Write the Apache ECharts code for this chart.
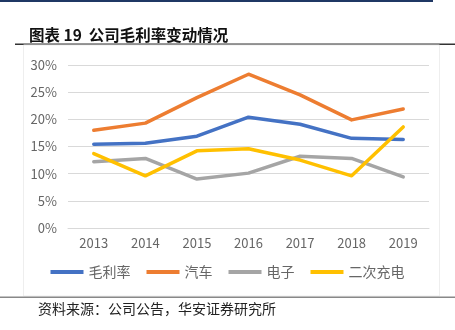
<!DOCTYPE html>
<html><head><meta charset="utf-8">
<script src="https://cdn.jsdelivr.net/npm/echarts@6/dist/echarts.min.js"></script>
<style>html,body{margin:0;padding:0;background:#fff}#c{width:455px;height:330px}</style>
</head><body><div id="c"></div>
<script>
const categories = ['2013','2014','2015','2016','2017','2018','2019'];
const grossMargin = [15.4, 15.6, 16.9, 20.4, 19.1, 16.5, 16.3];
const auto = [18.0, 19.3, 24.0, 28.3, 24.5, 19.9, 21.9];
const electronics = [12.2, 12.8, 9.0, 10.1, 13.2, 12.8, 9.4];
const secondaryCharging = [13.7, 9.6, 14.2, 14.6, 12.5, 9.6, 18.6];
const seriesNames = ['毛利率','汽车','电子','二次充电'];
const colors = ['#4472C4','#ED7D31','#A5A5A5','#FFC000'];
const yTicks = [0,5,10,15,20,25,30];

const chart = echarts.init(document.getElementById('c'));
const font = '"Noto Sans CJK SC", "Noto Sans", sans-serif';
const mk = (name, data, i) => ({
  name, type:'line', data, symbol:'none', smooth:false,
  lineStyle:{width:3.5, color:colors[i], cap:'round', join:'round'},
  itemStyle:{color:colors[i]}
});
chart.setOption({
  animation:false,
  textStyle:{fontFamily:font},
  title:{text:'图表 19  公司毛利率变动情况', left:24, top:22,
    textStyle:{fontSize:15.5, fontWeight:'bold', color:'#111', fontFamily:font}},
  grid:{left:68, right:26, top:65, bottom:102},
  legend:{bottom:46, left:'center', itemWidth:33, itemHeight:4, itemGap:16,
    icon:'rect', textStyle:{fontSize:14, color:'#666', fontFamily:font},
    data:seriesNames},
  xAxis:{type:'category', data:categories, boundaryGap:true,
    axisLine:{show:true, lineStyle:{color:'#D9D9D9'}}, axisTick:{show:false},
    axisLabel:{color:'#666', fontSize:13, margin:9}},
  yAxis:{type:'value', min:yTicks[0], max:yTicks[yTicks.length-1], interval:5,
    axisLine:{show:false}, axisTick:{show:false},
    splitLine:{lineStyle:{color:'#D9D9D9', width:1}},
    axisLabel:{color:'#666', fontSize:13, formatter:v=>v+'%', margin:11}},
  series:[mk(seriesNames[0],grossMargin,0), mk(seriesNames[1],auto,1), mk(seriesNames[2],electronics,2), mk(seriesNames[3],secondaryCharging,3)],
  graphic:[
    {type:'rect', shape:{x:0,y:0,width:433,height:2}, style:{fill:'#1F3864'}},
    {type:'rect', shape:{x:15,y:43.5,width:440,height:1.5}, style:{fill:'#333'}},
    {type:'rect', shape:{x:23.5,y:45,width:416,height:251}, style:{fill:'none', stroke:'#EEEEEE', lineWidth:1}},
    {type:'rect', shape:{x:0,y:296.5,width:455,height:1.5}, style:{fill:'#888'}},
    {type:'text', left:38, top:302, style:{text:'资料来源：公司公告，华安证券研究所', fill:'#222', font:'14px "Noto Sans CJK SC"'}}
  ]
});
</script></body></html>
